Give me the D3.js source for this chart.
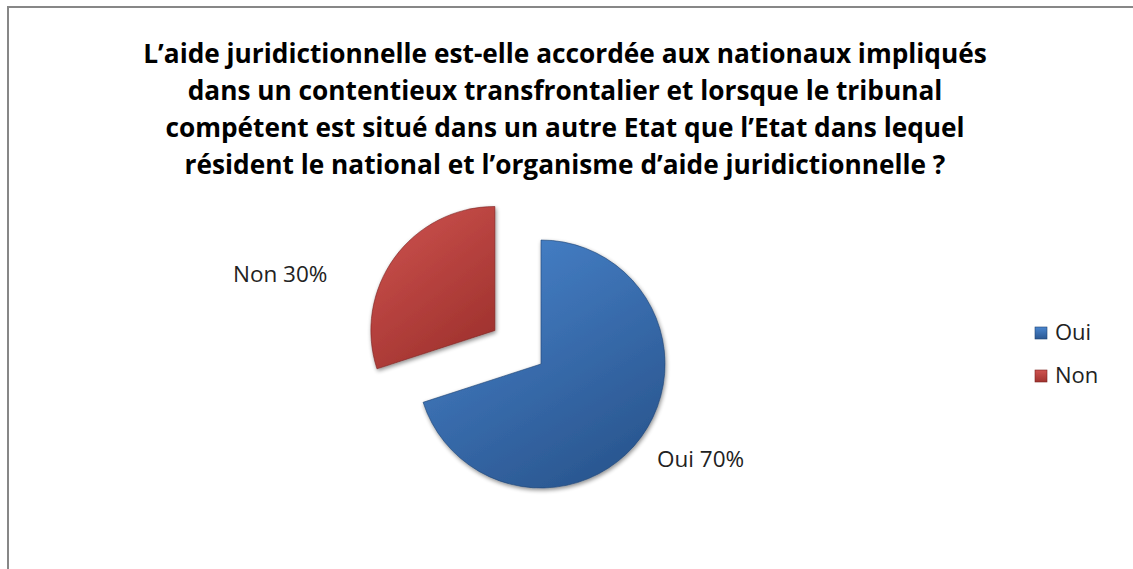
<!DOCTYPE html>
<html>
<head>
<meta charset="utf-8">
<script src="https://cdn.jsdelivr.net/npm/d3@7/dist/d3.min.js"></script>
<style>
  html, body { margin: 0; padding: 0; background: #fff; }
  svg { display: block; }
</style>
</head>
<body>
<svg id="chart" width="1133" height="569"></svg>
<script>
// Survey answers
const categories = ["Oui", "Non"];
const values = [70, 30];
const labels = ["Oui 70%", "Non 30%"];
const titleLines = [
  "L’aide juridictionnelle est-elle accordée aux nationaux impliqués",
  "dans un contentieux transfrontalier et lorsque le tribunal",
  "compétent est situé dans un autre Etat que l’Etat dans lequel",
  "résident le national et l’organisme d’aide juridictionnelle ?"
];

const colors = {
  Oui: { light: "#4a86cf", dark: "#2b5892", edge: "#1f4372" },
  Non: { light: "#cf5350", dark: "#a1332f", edge: "#7a2220" }
};

const FONT = "'Open Sans', 'Noto Sans', sans-serif";
const svg = d3.select("#chart");
const W = 1133, H = 569;

// Chart frame (extends past the right and bottom edges)
svg.append("rect")
  .attr("x", 8).attr("y", 7)
  .attr("width", W + 20).attr("height", H + 20)
  .attr("fill", "#fff")
  .attr("stroke", "#878787")
  .attr("stroke-width", 2);

const defs = svg.append("defs");
categories.forEach(c => {
  const g = defs.append("linearGradient")
    .attr("id", "grad-" + c)
    .attr("x1", "0").attr("y1", "0").attr("x2", "0.6").attr("y2", "1");
  g.append("stop").attr("offset", "0%").attr("stop-color", colors[c].light);
  g.append("stop").attr("offset", "100%").attr("stop-color", colors[c].dark);

  const lg = defs.append("linearGradient")
    .attr("id", "lgrad-" + c)
    .attr("x1", "0").attr("y1", "0").attr("x2", "0").attr("y2", "1");
  lg.append("stop").attr("offset", "0%").attr("stop-color", colors[c].light);
  lg.append("stop").attr("offset", "100%").attr("stop-color", colors[c].dark);
});
const shadow = defs.append("filter").attr("id", "shadow")
  .attr("x", "-20%").attr("y", "-20%").attr("width", "140%").attr("height", "140%");
shadow.append("feGaussianBlur").attr("in", "SourceAlpha").attr("stdDeviation", 2).attr("result", "b");
shadow.append("feOffset").attr("in", "b").attr("dx", 1).attr("dy", 2).attr("result", "o");
shadow.append("feComponentTransfer").attr("in", "o").attr("result", "s")
  .append("feFuncA").attr("type", "linear").attr("slope", 0.45);
const fm = shadow.append("feMerge");
fm.append("feMergeNode").attr("in", "s");
fm.append("feMergeNode").attr("in", "SourceGraphic");

// Title
const titleG = svg.append("g").attr("font-family", FONT)
  .attr("font-weight", "bold").attr("fill", "#000").attr("text-anchor", "middle");
const titleTexts = titleG.selectAll("text").data(titleLines).join("text")
  .attr("x", 565)
  .attr("y", (d, i) => 63 + i * 37)
  .attr("font-size", 22)
  .text(d => d);
// Size the title so its longest line spans the intended width
const w0 = titleTexts.nodes()[0].getComputedTextLength();
titleTexts.attr("font-size", 22 * 844 / w0);

// Pie
const cx = 541, cy = 364, r = 124, explode = 57;
const pie = d3.pie().sort(null).value(d => d.value);
const arcs = pie(categories.map((c, i) => ({ cat: c, value: values[i], label: labels[i] })));
const arc = d3.arc().innerRadius(0).outerRadius(r);

const pieG = svg.append("g").attr("transform", `translate(${cx},${cy})`);
pieG.selectAll("path").data(arcs).join("path")
  .attr("transform", d => {
    if (d.data.cat !== "Non") return null;
    const m = (d.startAngle + d.endAngle) / 2;
    return `translate(${Math.sin(m) * explode},${-Math.cos(m) * explode})`;
  })
  .attr("d", arc)
  .attr("fill", d => `url(#grad-${d.data.cat})`)
  .attr("stroke", d => colors[d.data.cat].edge)
  .attr("stroke-width", 0.6)
  .attr("filter", "url(#shadow)");

// Data labels
const labelPos = { Oui: [657, 467], Non: [233, 282] };
svg.append("g").attr("font-family", FONT)
  .attr("font-size", 22.5).attr("fill", "#222")
  .selectAll("text").data(arcs).join("text")
  .attr("x", d => labelPos[d.data.cat][0])
  .attr("y", d => labelPos[d.data.cat][1])
  .text(d => d.data.label);

// Legend
const legend = svg.append("g").attr("transform", "translate(1035,327)");
const items = legend.selectAll("g").data(categories).join("g")
  .attr("transform", (d, i) => `translate(0,${i * 43})`);
items.append("rect")
  .attr("width", 12).attr("height", 12)
  .attr("fill", d => `url(#lgrad-${d})`)
  .attr("stroke", d => colors[d].edge).attr("stroke-width", 0.6);
items.append("text")
  .attr("x", 20).attr("y", 13)
  .attr("font-family", FONT)
  .attr("font-size", 22).attr("fill", "#222")
  .text(d => d);
</script>
</body>
</html>
